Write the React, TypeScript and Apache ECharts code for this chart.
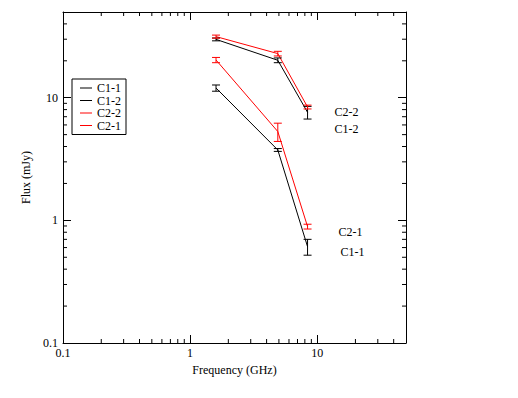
import React, { useEffect, useRef } from "react";
import * as echarts from "echarts";

const freqs = [1.6, 4.9, 8.4];
const seriesNames = ["C1-1", "C1-2", "C2-2", "C2-1"];
const c11 = [12.0, 3.75, 0.61];
const c11Err = [0.7, 0.1, 0.09];
const c12 = [29.9, 20.2, 7.6];
const c12Err = [0.8, 0.9, 0.9];
const c22 = [31.5, 22.9, 8.4];
const c22Err = [0.9, 1.0, 0.3];
const c21 = [20.3, 5.3, 0.89];
const c21Err = [1.0, 0.9, 0.04];
const xMinorTicks = [0.2, 0.3, 0.4, 0.5, 0.6, 0.7, 0.8, 0.9, 2, 3, 4, 5, 6, 7, 8, 9, 20, 30, 40];
const yMinorTicks = [0.2, 0.3, 0.4, 0.5, 0.6, 0.7, 0.8, 0.9, 2, 3, 4, 5, 6, 7, 8, 9, 20, 30, 40];

const FONT = "Liberation Serif";
const BLACK = "#000000";
const RED = "#ff0000";

const values = [c11, c12, c22, c21];
const errs = [c11Err, c12Err, c22Err, c21Err];
const colors = [BLACK, BLACK, RED, RED];
const labelOffsets: [number, number][] = [
  [33, 5],
  [27, 17],
  [27, 5],
  [31, 5],
];

const powLabel = (v: number) => {
  const l = Math.log10(v);
  if (Math.abs(l - Math.round(l)) < 1e-6) {
    return String(Number(v.toPrecision(6)));
  }
  return "";
};

export default function App() {
  const ref = useRef<HTMLDivElement>(null);
  useEffect(() => {
    document.body.style.margin = "0";
    const chart = echarts.init(ref.current!, undefined, { renderer: "svg" });

    const axisCommon = {
      type: "log" as const,
      logBase: 10,
      axisLine: { show: true, onZero: false, lineStyle: { color: BLACK, width: 1 } },
      axisTick: { show: true, inside: true, length: 8, lineStyle: { color: BLACK, width: 1 } },
      splitLine: { show: false },
      minorTick: { show: false },
    };

    const lineSeries = seriesNames.map((name, k) => ({
      name,
      type: "line",
      xAxisIndex: 0,
      yAxisIndex: 0,
      data: freqs.map((f, i) => [f, values[k][i]]),
      symbol: "none",
      lineStyle: { color: colors[k], width: 1 },
      itemStyle: { color: colors[k] },
      endLabel: {
        show: true,
        formatter: "{a}",
        distance: 0,
        offset: labelOffsets[k],
        color: BLACK,
        fontFamily: FONT,
        fontSize: 12,
      },
      z: 3,
    }));

    const errSeries = seriesNames.map((name, k) => ({
      name: name + " err",
      type: "custom",
      xAxisIndex: 0,
      yAxisIndex: 0,
      data: freqs.map((f, i) => [f, values[k][i] - errs[k][i], values[k][i] + errs[k][i]]),
      encode: { x: 0, y: [1, 2] },
      renderItem: (params: any, api: any) => {
        const x = api.value(0);
        const p1 = api.coord([x, api.value(1)]);
        const p2 = api.coord([x, api.value(2)]);
        const w = 4;
        const style = { stroke: colors[k], lineWidth: 1, fill: "none" };
        return {
          type: "group",
          children: [
            { type: "line", shape: { x1: p1[0], y1: p1[1], x2: p2[0], y2: p2[1] }, style },
            { type: "line", shape: { x1: p1[0] - w, y1: p1[1], x2: p1[0] + w, y2: p1[1] }, style },
            { type: "line", shape: { x1: p2[0] - w, y1: p2[1], x2: p2[0] + w, y2: p2[1] }, style },
          ],
        };
      },
      z: 4,
    }));

    const xTickSeries = {
      name: "xminor",
      type: "custom",
      xAxisIndex: 0,
      yAxisIndex: 0,
      data: xMinorTicks.map((v) => [v, 1]),
      encode: { x: 0, y: 1 },
      silent: true,
      renderItem: (params: any, api: any) => {
        const x = api.coord([api.value(0), 1])[0];
        const cs = params.coordSys;
        const style = { stroke: BLACK, lineWidth: 1 };
        return {
          type: "group",
          children: [
            { type: "line", shape: { x1: x, y1: cs.y + cs.height, x2: x, y2: cs.y + cs.height - 4 }, style },
            { type: "line", shape: { x1: x, y1: cs.y, x2: x, y2: cs.y + 4 }, style },
          ],
        };
      },
    };

    const yTickSeries = {
      name: "yminor",
      type: "custom",
      xAxisIndex: 0,
      yAxisIndex: 0,
      data: yMinorTicks.map((v) => [1, v]),
      encode: { x: 0, y: 1 },
      silent: true,
      renderItem: (params: any, api: any) => {
        const y = api.coord([1, api.value(1)])[1];
        const cs = params.coordSys;
        const style = { stroke: BLACK, lineWidth: 1 };
        return {
          type: "group",
          children: [
            { type: "line", shape: { x1: cs.x, y1: y, x2: cs.x + 4, y2: y }, style },
            { type: "line", shape: { x1: cs.x + cs.width, y1: y, x2: cs.x + cs.width - 4, y2: y }, style },
          ],
        };
      },
    };

    chart.setOption({
      animation: false,
      backgroundColor: "#ffffff",
      grid: { left: 63, top: 12, width: 343, height: 331, containLabel: false },
      legend: {
        data: seriesNames.map((n, k) => ({ name: n, icon: "rect", itemStyle: { color: colors[k] } })),
        orient: "vertical",
        left: 72,
        top: 79,
        backgroundColor: "#ffffff",
        borderColor: BLACK,
        borderWidth: 1,
        borderRadius: 0,
        padding: [3, 5, 3, 8],
        itemWidth: 12,
        itemHeight: 1,
        itemGap: 0.5,
        textStyle: { color: BLACK, fontFamily: FONT, fontSize: 12, lineHeight: 12 },
        selectedMode: false,
      },
      xAxis: [
        {
          ...axisCommon,
          position: "bottom",
          min: 0.1,
          max: 50,
          name: "Frequency (GHz)",
          nameLocation: "middle",
          nameGap: 18,
          nameTextStyle: { color: BLACK, fontFamily: FONT, fontSize: 12 },
          axisLabel: {
            show: true,
            color: BLACK,
            fontFamily: FONT,
            fontSize: 12,
            margin: 4,
            showMaxLabel: false,
            formatter: powLabel,
          },
        },
        {
          ...axisCommon,
          position: "top",
          min: 0.1,
          max: 50,
          axisLabel: { show: false },
        },
      ],
      yAxis: [
        {
          ...axisCommon,
          position: "left",
          min: 0.1,
          max: 50,
          name: "Flux (mJy)",
          nameLocation: "middle",
          nameGap: 26,
          nameTextStyle: { color: BLACK, fontFamily: FONT, fontSize: 12 },
          axisLabel: {
            show: true,
            color: BLACK,
            fontFamily: FONT,
            fontSize: 12,
            margin: 5,
            showMaxLabel: false,
            formatter: powLabel,
          },
        },
        {
          ...axisCommon,
          position: "right",
          min: 0.1,
          max: 50,
          axisLabel: { show: false },
        },
      ],
      series: [...lineSeries, ...errSeries, xTickSeries, yTickSeries],
    });
    return () => chart.dispose();
  }, []);
  return (
    <div
      ref={ref}
      style={{ position: "absolute", left: 0, top: 0, width: 518, height: 398 }}
    />
  );
}
